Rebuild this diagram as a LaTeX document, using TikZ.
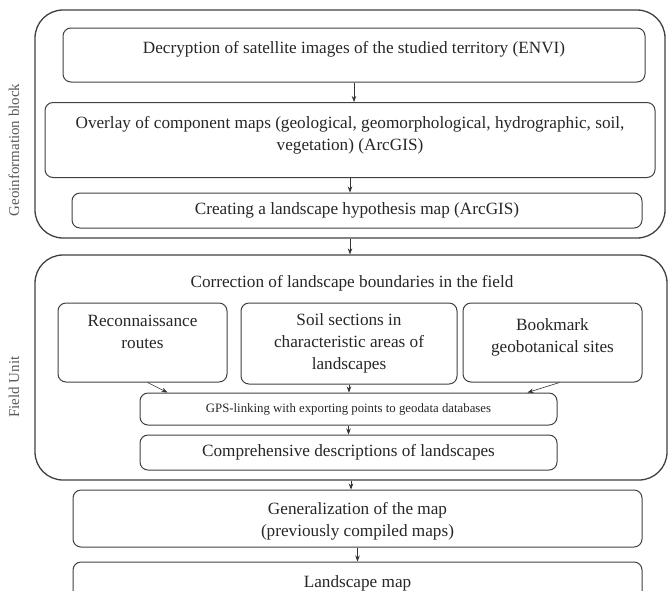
\documentclass[tikz,border=0pt]{standalone}
\usepackage{fontspec}
\setmainfont{Liberation Serif}
\usetikzlibrary{arrows.meta}

\begin{document}
\begin{tikzpicture}
  [x=1pt,y=-1pt,
   every node/.style={text=black!85,font=\fontsize{17.2}{22}\selectfont},
   box/.style={draw=black!75,line width=1pt,rounded corners=8pt,inner sep=0pt,align=center},
   block/.style={draw=black!75,line width=1.3pt,rounded corners=28pt,inner sep=0pt},
   side/.style={rotate=90,text=black!65,font=\fontsize{15}{18}\selectfont},
   arr/.style={-{Stealth[length=6pt,width=4.5pt]},draw=black!80,line width=0.6pt}]
  \useasboundingbox (0,0) rectangle (668,590);
  % outer blocks
  \node[block,minimum width=630,minimum height=228] (geo) at (350,124) {};
  \node[block,minimum width=632,minimum height=225] (field) at (351,367.5) {};
  \node[side] (geolbl) at (14,150) {Geoinformation block};
  \node[side] (fieldlbl) at (14,387) {Field Unit};
  % geoinformation block
  \node[box,minimum width=582,text height=25,text depth=29] (dec) at (354,55)
    {Decryption of satellite images of the studied territory (ENVI)};
  \node[box,minimum width=610,text height=48,text depth=27] (over) at (350,140)
    {Overlay of component maps (geological, geomorphological, hydrographic, soil,\\ vegetation) (ArcGIS)};
  \node[box,minimum width=570,minimum height=35] (cre) at (357,210.5)
    {Creating a landscape hypothesis map (ArcGIS)};
  % field unit
  \node (corr) at (352,283) {Correction of landscape boundaries in the field};
  \node[box,minimum width=169,text height=45,text depth=34] (recon) at (142.5,342.5)
    {Reconnaissance\\ routes};
  \node[box,minimum width=216,minimum height=81] (soil) at (349,343.5)
    {Soil sections in\\ characteristic areas of\\ landscapes};
  \node[box,minimum width=179,text height=49,text depth=30] (book) at (552.5,342.5)
    {Bookmark\\ geobotanical sites};
  \node[box,minimum width=417,minimum height=32,font=\fontsize{12.8}{14}\selectfont] (gps) at (348.5,409)
    {GPS-linking with exporting points to geodata databases};
  \node[box,minimum width=417,minimum height=35] (comp) at (348.5,452.5)
    {Comprehensive descriptions of landscapes};
  % result
  \node[box,minimum width=569,text height=46,text depth=11] (gen) at (357.5,518.5)
    {Generalization of the map\\ (previously compiled maps)};
  \node[box,minimum width=569,text height=25,text depth=20] (land) at (357.5,584.5)
    {Landscape map};
  \foreach \from/\to in {dec/over,over/cre,geo/field,soil/gps,gps/comp,field/gen,gen/land}
    \draw[arr] (\from.south) -- (\from.south |- \to.north);
  \draw[arr] ([xshift=5]recon.south) -- ([xshift=28]gps.north west);
  \draw[arr] ([xshift=7]book.south) -- ([xshift=-30]gps.north east);
\end{tikzpicture}
\end{document}
